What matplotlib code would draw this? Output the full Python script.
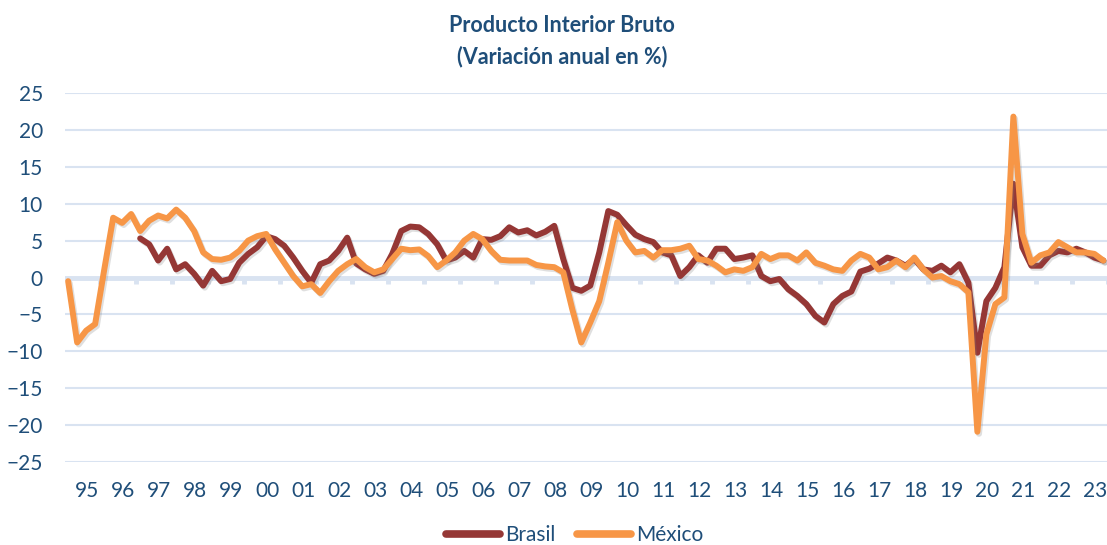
import numpy as np
import matplotlib
matplotlib.use("Agg")
import matplotlib.pyplot as plt
import matplotlib.patheffects as pe

plt.rcParams['font.family'] = ['Lato', 'DejaVu Sans']

# PIB trimestral, variación anual en %, 1995T1 - 2023T4
mexico = [-0.5, -8.8, -7.2, -6.3, 1.0, 8.1, 7.4, 8.6,
          6.3, 7.7, 8.4, 8.0, 9.2, 8.1, 6.3, 3.4,
          2.5, 2.4, 2.7, 3.6, 5.0, 5.6, 5.9, 3.8,
          2.0, 0.2, -1.2, -0.9, -2.1, -0.5, 0.9, 1.8,
          2.5, 1.4, 0.7, 1.1, 2.5, 3.9, 3.7, 3.8,
          2.9, 1.4, 2.3, 3.4, 5.0, 5.9, 5.2, 3.6,
          2.4, 2.3, 2.3, 2.3, 1.7, 1.5, 1.4, 0.7,
          -4.3, -8.8, -6.1, -3.2, 2.0, 7.5, 5.0, 3.4,
          3.6, 2.7, 3.7, 3.7, 3.9, 4.3, 2.5, 2.3,
          1.6, 0.7, 1.1, 0.9, 1.4, 3.2, 2.5, 3.0,
          3.0, 2.3, 3.4, 2.0, 1.6, 1.1, 0.9, 2.3,
          3.2, 2.7, 1.1, 1.4, 2.3, 1.4, 2.7, 1.1,
          0.0, 0.2, -0.5, -0.9, -2.0, -20.9, -7.7, -3.6,
          -2.7, 21.8, 5.9, 2.0, 3.0, 3.4, 4.8, 4.1,
          3.4, 3.4, 3.2, 2.3]

# Brasil empieza en 1997T1
brasil = [None] * 8 + [
          5.3, 4.5, 2.3, 3.9, 1.1, 1.8, 0.5, -1.1,
          0.9, -0.5, -0.2, 2.0, 3.2, 4.1, 5.6, 5.2,
          4.3, 2.7, 0.9, -0.7, 1.8, 2.3, 3.6, 5.4,
          1.9, 1.1, 0.5, 0.9, 3.2, 6.3, 6.9, 6.8,
          5.9, 4.5, 2.3, 2.7, 3.6, 2.7, 5.2, 5.1,
          5.6, 6.8, 6.1, 6.4, 5.7, 6.2, 7.0, 2.5,
          -1.4, -1.8, -1.1, 3.4, 9.0, 8.5, 7.1, 5.8,
          5.2, 4.8, 3.4, 3.0, 0.2, 1.4, 3.0, 2.0,
          3.9, 3.9, 2.5, 2.7, 3.0, 0.2, -0.5, -0.2,
          -1.6, -2.5, -3.6, -5.2, -6.1, -3.6, -2.5, -1.9,
          0.8, 1.2, 1.9, 2.7, 2.3, 1.6, 2.5, 1.1,
          0.9, 1.6, 0.7, 1.8, -0.7, -10.2, -3.2, -1.4,
          1.4, 12.7, 4.1, 1.6, 1.6, 3.0, 3.6, 3.4,
          3.9, 3.4, 2.7, 2.3]

years = ['95', '96', '97', '98', '99', '00', '01', '02', '03', '04',
         '05', '06', '07', '08', '09', '10', '11', '12', '13', '14',
         '15', '16', '17', '18', '19', '20', '21', '22', '23']

text_col = '#1F4E79'
grid_col = '#D9E3F1'
brasil_col = '#953735'
mexico_col = '#F79646'

fig = plt.figure(figsize=(11.07, 5.45), dpi=100)
ax = fig.add_axes([65 / 1107, 1 - 462 / 545, 1 - 65 / 1107, (462 - 93) / 545])

x = np.arange(len(mexico))
br = np.array([np.nan if v is None else v for v in brasil], dtype=float)

for v in range(-25, 30, 5):
    if v != 0:
        ax.axhline(v, color=grid_col, lw=1.5, zorder=1)
ax.axhline(0, color=grid_col, lw=3.5, zorder=1)
# marcas de división entre años sobre el eje cero
tick_pos = np.arange(3.5, len(mexico), 4)
ax.vlines(tick_pos, -0.9, 0, color=grid_col, lw=3.5, zorder=1)

shadow = [pe.SimpleLineShadow(offset=(1.2, -1.5), shadow_color='#808080', alpha=0.25), pe.Normal()]
ax.plot(x, br, color=brasil_col, lw=4.3, solid_joinstyle='round', solid_capstyle='round',
        label='Brasil', zorder=3, path_effects=shadow)
ax.plot(x, mexico, color=mexico_col, lw=4.3, solid_joinstyle='round', solid_capstyle='round',
        label='México', zorder=4, path_effects=shadow)

ax.set_xlim(-0.35, len(mexico) - 0.6)
ax.set_ylim(-25, 25)
ax.set_yticks(range(-25, 30, 5))
ax.set_xticks(np.arange(2.1, len(mexico), 4))
ax.set_xticklabels(years)
ax.tick_params(axis='y', length=0, pad=16, labelsize=15, labelcolor=text_col)
ax.tick_params(axis='x', length=0, pad=14, labelsize=15, labelcolor=text_col)
for s in ax.spines.values():
    s.set_visible(False)

fig.text(0.508, 1 - 25 / 545, 'Producto Interior Bruto', ha='center', va='center',
         fontsize=15.5, fontweight='bold', color=text_col)
fig.text(0.508, 1 - 57 / 545, '(Variación anual en %)', ha='center', va='center',
         fontsize=15.5, fontweight='bold', color=text_col)

leg = fig.legend(loc='center', bbox_to_anchor=(0.519, 10 / 545), ncol=2, frameon=False,
                 fontsize=15, handlelength=2.6, handletextpad=0.25, columnspacing=1.0)
for t in leg.get_texts():
    t.set_color(text_col)
for h in leg.get_lines():
    h.set_linewidth(5.5)
    h.set_path_effects([])

fig.savefig('out.png', dpi=100)
